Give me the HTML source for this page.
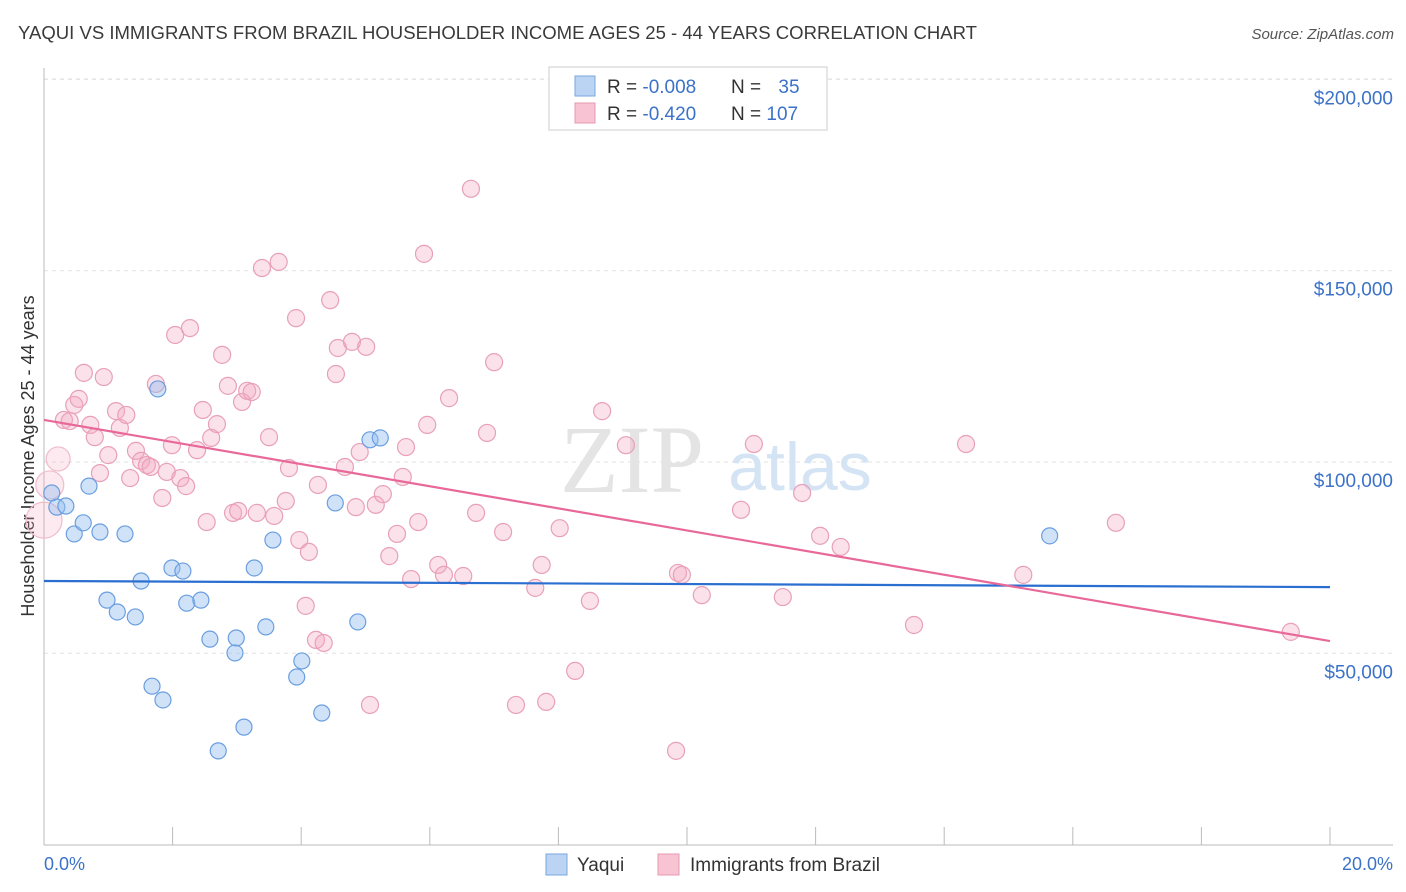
<!DOCTYPE html>
<html><head><meta charset="utf-8">
<style>
body{margin:0;background:#fff;font-family:"Liberation Sans",sans-serif;}
svg{display:block}
</style></head>
<body>
<svg id="chart" width="1406" height="892">
<text x="18" y="39" font-size="18" fill="#3a3a3a" textLength="959" lengthAdjust="spacingAndGlyphs">YAQUI VS IMMIGRANTS FROM BRAZIL HOUSEHOLDER INCOME AGES 25 - 44 YEARS CORRELATION CHART</text>
<text x="1394" y="39" font-size="15" fill="#555" font-style="italic" text-anchor="end">Source: ZipAtlas.com</text>
<g id="grid"></g>
<g>
<text x="632" y="492" font-size="96" fill="#e4e4e4" font-family="Liberation Serif,serif" text-anchor="middle">ZIP</text>
<text x="800" y="490" font-size="68" fill="#d4e4f4" text-anchor="middle">atlas</text>
</g>
<line x1="44" y1="68" x2="44" y2="845" stroke="#bbb"/>
<line x1="44" y1="845" x2="1393" y2="845" stroke="#bbb"/>
<g id="xticks"></g>
<g id="ylabels"></g>
<text transform="translate(34,456) rotate(-90)" font-size="18" fill="#333" text-anchor="middle">Householder Income Ages 25 - 44 years</text>
<text x="44" y="870" font-size="18" fill="#3b72c8">0.0%</text>
<text x="1393" y="870" font-size="18" fill="#3b72c8" text-anchor="end">20.0%</text>
<g id="pinkpts"></g>
<g id="bluepts"></g>
<g id="lines"></g>
<g>
<rect x="549" y="67" width="278" height="63" fill="#fff" stroke="#ccc"/>
<rect x="575" y="76" width="20" height="20" fill="#bcd4f4" stroke="#7aa6e0"/>
<rect x="575" y="103" width="20" height="20" fill="#f8c4d4" stroke="#e898b0"/>
<text x="607" y="93" font-size="19" fill="#333">R = <tspan fill="#3b72c8">-0.008</tspan></text>
<text x="731" y="93" font-size="19" fill="#333">N = <tspan fill="#3b72c8" dx="12">35</tspan></text>
<text x="607" y="120" font-size="19" fill="#333">R = <tspan fill="#3b72c8">-0.420</tspan></text>
<text x="731" y="120" font-size="19" fill="#333">N = <tspan fill="#3b72c8">107</tspan></text>
</g>
<g>
<rect x="546" y="854" width="21" height="21" fill="#bcd4f4" stroke="#7aa6e0"/>
<text x="577" y="871" font-size="19" fill="#333">Yaqui</text>
<rect x="658" y="854" width="21" height="21" fill="#f8c4d4" stroke="#e898b0"/>
<text x="690" y="871" font-size="19" fill="#333">Immigrants from Brazil</text>
</g>
</svg>
<script>
const yTicks=[50000,100000,150000,200000];
const yTickLabels=["$50,000","$100,000","$150,000","$200,000"];
const xTicks=[0,2,4,6,8,10,12,14,16,18,20];
const blueX=[0.12,0.2,0.34,0.47,0.61,0.7,0.87,1.26,1.51,0.98,1.14,1.42,1.77,1.68,1.85,1.99,2.16,2.22,2.44,2.58,2.71,2.99,2.97,3.11,3.27,3.45,3.56,3.93,4.01,4.32,4.53,4.88,5.07,5.23,15.64];
const blueY=[91.9,88.2,88.5,81.2,84.1,93.7,81.7,81.2,68.9,63.9,60.8,59.5,119.1,41.4,37.8,72.3,71.5,63.1,63.9,53.7,24.5,54.0,50.1,30.7,72.3,56.9,79.6,43.8,48.0,34.4,89.3,58.2,105.8,106.3,80.7];
const pinkX=[0,0.09,0.22,0.31,0.4,0.47,0.54,0.62,0.72,0.79,0.87,0.93,1.0,1.12,1.18,1.28,1.34,1.43,1.51,1.6,1.66,1.74,1.84,1.91,1.99,2.04,2.12,2.21,2.27,2.38,2.47,2.53,2.6,2.69,2.77,2.86,2.94,3.02,3.08,3.16,3.23,3.31,3.39,3.5,3.58,3.65,3.76,3.81,3.92,3.97,4.07,4.12,4.26,4.23,4.35,4.45,4.54,4.57,4.68,4.79,4.85,4.91,5.01,5.07,5.16,5.27,5.37,5.49,5.58,5.63,5.71,5.82,5.91,5.96,6.13,6.22,6.3,6.52,6.64,6.72,6.89,7.0,7.14,7.34,7.64,7.74,7.81,8.02,8.26,8.49,8.68,9.05,9.83,9.86,9.92,10.23,10.84,11.04,11.49,11.79,12.07,12.39,13.53,14.34,15.23,16.67,19.39];
const pinkY=[84.8,94.0,100.8,111.0,110.7,114.9,116.5,123.3,109.7,106.5,97.1,122.2,101.8,113.3,108.9,112.3,95.8,102.9,100.3,99.2,98.7,120.4,90.6,97.4,104.4,133.2,95.8,93.7,135.0,103.1,113.6,84.3,106.3,109.9,128.0,119.9,86.7,87.2,115.7,118.6,118.3,86.7,150.7,106.5,85.9,152.3,89.8,98.4,137.6,79.6,62.4,76.5,94.0,53.5,52.7,142.3,123.0,129.8,98.7,131.4,88.2,102.6,130.1,36.5,88.8,91.6,75.4,81.2,96.1,103.9,69.4,84.3,154.4,109.7,73.1,70.5,116.7,70.2,171.4,86.7,107.6,126.1,81.7,36.5,67.1,73.1,37.3,82.7,45.4,63.7,113.3,104.4,24.5,71.0,70.5,65.2,87.5,104.7,64.7,91.9,80.7,77.8,57.4,104.7,70.5,84.1,55.6];
const blueTrend=[68.9,67.3];
const pinkTrend=[111.0,53.2];
const trendX=[0,20];
const NS="http://www.w3.org/2000/svg";
function sx(p){return 44+p*64.3;}
function sy(k){return 462-(k-100)*3.826;}
function mk(t,a,parent){const e=document.createElementNS(NS,t);for(const k in a)e.setAttribute(k,a[k]);parent.appendChild(e);return e;}
const grid=document.getElementById('grid'),yl=document.getElementById('ylabels');
yTicks.forEach((v,i)=>{const y=sy(v/1000);
const l=mk('line',{x1:44,x2:1393,y1:y,y2:y,stroke:'#e2e2e2','stroke-dasharray':'4,4'},grid);


const t=mk('text',{x:1393,y:y+25,'font-size':19,fill:'#3b72c8','text-anchor':'end'},yl);t.textContent=yTickLabels[i];

});
const gl=mk('line',{x1:44,x2:1393,y1:79,y2:79,stroke:'#e2e2e2','stroke-dasharray':'4,4'},grid);


const xt=document.getElementById('xticks');
xTicks.forEach(v=>{const x=sx(v);const l=mk('line',{x1:x,x2:x,y1:827,y2:845,stroke:'#bbb'},xt);

});
const pp=document.getElementById('pinkpts');
pinkX.forEach((v,i)=>{const big=i<3;const r=big?[18,14,12][i]:8.5;
const c=mk('circle',{cx:sx(v),cy:sy(pinkY[i]),r:r,fill:big?'rgba(244,170,195,0.25)':'rgba(244,170,195,0.35)',stroke:big?'#f0bccb':'#e8a0b8','stroke-width':1.2},pp);

});
const bp=document.getElementById('bluepts');
blueX.forEach((v,i)=>{const c=mk('circle',{cx:sx(v),cy:sy(blueY[i]),r:8,fill:'rgba(150,190,240,0.45)',stroke:'#6a9ee0','stroke-width':1.2},bp);

});
const lg=document.getElementById('lines');
const b=mk('line',{x1:sx(trendX[0]),y1:sy(blueTrend[0]),x2:sx(trendX[1]),y2:sy(blueTrend[1]),stroke:'#2a6fd0','stroke-width':2.2},lg);


const p=mk('line',{x1:sx(trendX[0]),y1:sy(pinkTrend[0]),x2:sx(trendX[1]),y2:sy(pinkTrend[1]),stroke:'#e8689a','stroke-width':2.2},lg);


</script>
</body></html>
